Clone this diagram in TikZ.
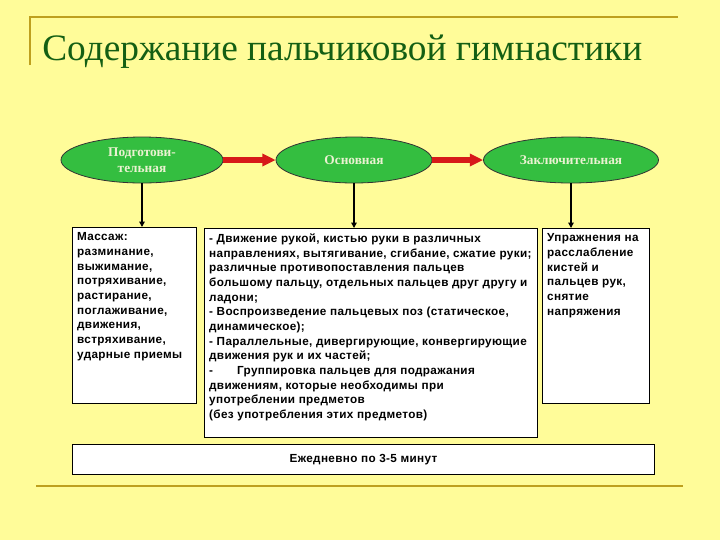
\documentclass[tikz,border=0pt]{standalone}
\usepackage{fontspec}
\setmainfont{Liberation Serif}
\setsansfont{Liberation Sans}
\newfontfamily\boxfont[LetterSpace=3]{Liberation Sans}
\definecolor{slidebg}{RGB}{255,252,153}
\definecolor{rulegold}{RGB}{190,160,30}
\definecolor{titlegreen}{RGB}{20,95,20}
\definecolor{stagegreen}{RGB}{52,190,64}
\definecolor{stagetext}{RGB}{235,242,210}
\definecolor{arrowred}{RGB}{215,25,25}
\usetikzlibrary{shapes.geometric, arrows.meta, positioning}

\begin{document}
\begin{tikzpicture}[x=0.75pt, y=-0.75pt,
  stage/.style={ellipse, draw=black!80, line width=0.6pt, fill=stagegreen, text=stagetext,
    font=\bfseries\fontsize{10}{12}\selectfont, align=center, inner sep=0pt, minimum height=34.5pt},
  textbox/.style={draw=black, line width=0.8pt, fill=white, anchor=north west,
    inner xsep=3.5pt, inner ysep=4pt, font=\boxfont\bfseries\fontsize{8.8}{11}\selectfont},
  redarrow/.style={draw=arrowred, line width=3.8pt, -{Triangle[length=10pt, width=9pt]}},
  downarrow/.style={draw=black, line width=1.1pt, -{Triangle[length=4pt, width=4pt]}}
]
  % slide background and rules
  \fill[slidebg] (0,0) rectangle (720,540);
  \draw[rulegold, line width=1.5pt] (30,65) -- (30,17) -- (678,17);
  \draw[rulegold, line width=2.2pt] (36,486) -- (683,486);

  \node[anchor=base west, inner sep=0pt, text=titlegreen, font=\fontsize{28}{30}\selectfont]
    (title) at (42,60) {Содержание пальчиковой гимнастики};

  % stages
  \node[stage, minimum width=121.5pt] (prep) at (142,160) {Подготови-\\тельная};
  \node[stage, minimum width=117pt] (main) at (354,160) {Основная};
  \node[stage, minimum width=131.25pt] (final) at (571,160) {Заключительная};

  % contents
  \node[textbox] (massage) at (72,227) {\parbox[t][124pt][t]{86pt}{\raggedright
    Массаж:\\ разминание,\\ выжимание,\\ потряхивание,\\ растирание,\\
    поглаживание,\\ движения,\\ встряхивание,\\ ударные приемы}};
  \node[textbox] (exercises) at (204,228) {\parbox[t][148.75pt][t]{242.75pt}{\raggedright
    - Движение рукой, кистью руки в различных\\
    направлениях, вытягивание, сгибание, сжатие руки;\\
    различные противопоставления пальцев\\
    большому пальцу, отдельных пальцев друг другу и\\
    ладони;\\
    - Воспроизведение пальцевых поз (статическое,\\
    динамическое);\\
    - Параллельные, дивергирующие, конвергирующие\\
    движения рук и их частей;\\
    -\hspace{18pt}Группировка пальцев для подражания\\
    движениям, которые необходимы при\\
    употреблении предметов\\
    (без употребления этих предметов)}};
  \node[textbox] (relax) at (542,228) {\parbox[t][123.25pt][t]{73.25pt}{\raggedright
    Упражнения на\\ расслабление\\ кистей и\\ пальцев рук,\\ снятие\\ напряжения}};
  \node[textbox, inner sep=0pt, minimum width=436.5pt, minimum height=22.5pt]
    (daily) at (72,444) {Ежедневно по 3-5 минут};

  % connectors
  \draw[redarrow] (prep.east) -- (main.west);
  \draw[redarrow] (main.east) -- (final.west);
  \draw[downarrow] (prep.south) -- (prep.south |- massage.north);
  \draw[downarrow] (main.south) -- (main.south |- exercises.north);
  \draw[downarrow] (final.south) -- (final.south |- relax.north);
\end{tikzpicture}
\end{document}
